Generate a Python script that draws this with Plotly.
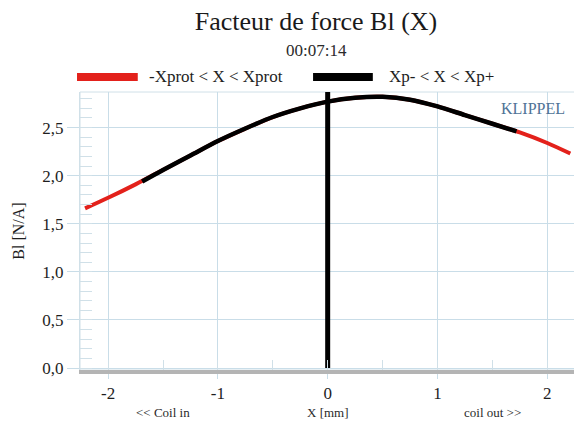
import plotly.graph_objects as go

# ---- data ----
x_full = [-2.21, -2.0, -1.75, -1.5, -1.25, -1.0, -0.75, -0.5, -0.25, 0.0,
          0.25, 0.5, 0.75, 1.0, 1.25, 1.5, 1.75, 2.0, 2.21]
bl_full = [1.66, 1.77, 1.91, 2.06, 2.21, 2.36, 2.49, 2.61, 2.70, 2.77,
           2.81, 2.82, 2.79, 2.72, 2.63, 2.54, 2.45, 2.34, 2.23]

x_xp = [-1.69, -1.5, -1.25, -1.0, -0.75, -0.5, -0.25, 0.0,
        0.25, 0.5, 0.75, 1.0, 1.25, 1.5, 1.72]
bl_xp = [1.94, 2.06, 2.21, 2.36, 2.49, 2.61, 2.70, 2.77,
         2.81, 2.82, 2.79, 2.72, 2.63, 2.54, 2.46]

series_names = ["-Xprot < X < Xprot", "Xp- < X < Xp+"]
series_colors = ["#e3211b", "#000000"]

position_x = 0.0
y_top = 2.87

x_ticks = [-2, -1, 0, 1, 2]
y_ticks = [0.0, 0.5, 1.0, 1.5, 2.0, 2.5]
x_notes = ["<< Coil in", "X [mm]", "coil out >>"]
x_note_pos = [-1.5, 0.0, 1.5]

SERIF = "Liberation Serif, Times New Roman, serif"
GRID = "#c9dde8"
TXT = "#1e1e1e"

fig = go.Figure()
fig.add_trace(go.Scatter(x=x_full, y=bl_full, mode="lines",
                         line=dict(color=series_colors[0], width=4, shape="spline", smoothing=0.8),
                         name=series_names[0]))
fig.add_trace(go.Scatter(x=x_xp, y=bl_xp, mode="lines",
                         line=dict(color=series_colors[1], width=4.5, shape="spline", smoothing=0.8),
                         name=series_names[1]))
fig.add_trace(go.Scatter(x=[position_x, position_x], y=[0, y_top], mode="lines",
                         line=dict(color="#000000", width=5),
                         showlegend=False))

# the page body adds an 8px offset; the figure is sized to fill the rest
fig.update_layout(
    width=574, height=419,
    margin=dict(l=72, r=4, t=84, b=57, autoexpand=False),
    paper_bgcolor="white", plot_bgcolor="white",
    separators=", ",
    font=dict(family=SERIF, color=TXT, size=12),
    title=dict(text="Facteur de force Bl (X)", x=0.5366, xanchor="center",
               xref="container", y=0.969, yanchor="middle", yref="container",
               font=dict(family=SERIF, size=26, color="#1a1a1a")),
    showlegend=False,
    xaxis=dict(range=[-2.256, 2.28], tickvals=x_ticks, ticktext=[str(v) for v in x_ticks],
               showgrid=True, gridcolor=GRID, gridwidth=1, zeroline=False,
               showline=True, linecolor="#b4b4b4", linewidth=4, mirror=False,
               ticks="outside", ticklen=5, tickcolor=GRID,
               tickfont=dict(family=SERIF, size=17, color=TXT),
               minor=dict(dtick=0.5, tick0=0.5, ticks="inside", ticklen=10,
                          tickcolor="#d0e0e8", showgrid=False)),
    yaxis=dict(range=[-0.02, y_top], tickvals=y_ticks, tickformat=".1f",
               showgrid=True, gridcolor=GRID, gridwidth=1, zeroline=False,
               showline=True, linecolor="#d0e0e8", linewidth=1,
               ticks="outside", ticklen=12, tickcolor=GRID,
               tickfont=dict(family=SERIF, size=17, color=TXT),
               title=dict(text="Bl [N/A]", font=dict(family=SERIF, size=16, color=TXT),
                          standoff=13),
               minor=dict(dtick=0.1, ticks="inside", ticklen=12,
                          tickcolor="#d0e0e8", showgrid=False)),
)

# frame
fig.add_shape(type="rect", xref="paper", yref="paper", x0=0, x1=1, y0=0, y1=1,
              line=dict(color="#d0e0e8", width=1), layer="below")

# legend drawn as swatches + text (long swatches as in the reference)
legend_swatch = [(-0.006, 0.116), (0.468, 0.588)]
legend_text_x = [0.1345, 0.6165]
legend_y = 1.054
for name, col, (s0, s1), tx in zip(series_names, series_colors, legend_swatch, legend_text_x):
    fig.add_shape(type="line", xref="paper", yref="paper", x0=s0, x1=s1,
                  y0=legend_y, y1=legend_y, line=dict(color=col, width=8))
    fig.add_annotation(text=name, xref="paper", yref="paper", x=tx, y=legend_y,
                       showarrow=False, xanchor="left", yanchor="middle",
                       font=dict(family=SERIF, size=17, color=TXT))

# subtitle (time stamp)
fig.add_annotation(text="00:07:14", xref="paper", yref="paper", x=0.474, y=1.151,
                   showarrow=False, xanchor="center", yanchor="middle",
                   font=dict(family=SERIF, size=17, color="#2a2a2a"))

# notes under the x axis
for t, xp in zip(x_notes, x_note_pos):
    fig.add_annotation(text=t, xref="x", yref="paper", x=xp, y=-0.153,
                       showarrow=False, xanchor="center", yanchor="middle",
                       font=dict(family=SERIF, size=13, color="#2a2a2a"))

fig.add_annotation(text="KLIPPEL", xref="paper", yref="paper", x=0.978, y=0.98,
                   showarrow=False, xanchor="right", yanchor="top",
                   font=dict(family=SERIF, size=16, color="#4f7396"))

fig.write_html("out.html")
